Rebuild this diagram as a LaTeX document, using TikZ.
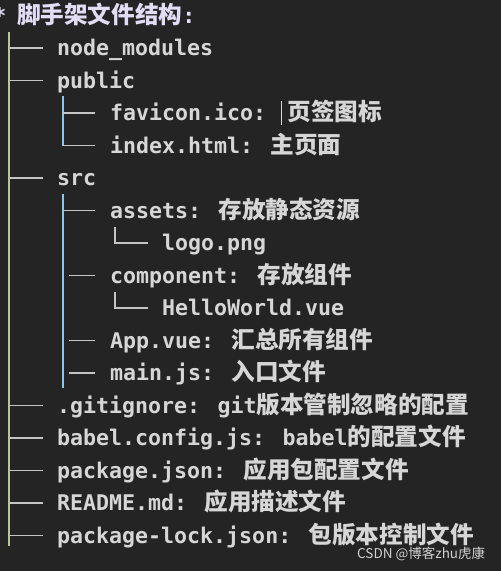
\documentclass[tikz,border=0pt]{standalone}
\usepackage{fontspec}
\newfontfamily\monof{DejaVu Sans Mono}
\newfontfamily\cjkf{Noto Sans CJK SC}
\newcommand\zh[1]{{\cjkf\fontsize{23.6}{26}\selectfont #1}}
\definecolor{bgc}{HTML}{242424}
\definecolor{txt}{HTML}{D6D6D6}
\definecolor{titlec}{HTML}{E2DCF4}
\definecolor{gone}{HTML}{B8C49C}
\definecolor{gtwo}{HTML}{8CC6E4}
\definecolor{brc}{HTML}{C4C4C4}
\definecolor{wmc}{HTML}{D0D0D0}
\tikzset{
  item/.style={anchor=west, inner sep=0pt, text height=18pt, text depth=3pt, text=txt,
    font=\monof\bfseries\fontsize{21.6}{26}\selectfont},
  guideone/.style={draw=gone, line width=2pt},
  guidetwo/.style={draw=gtwo, line width=2pt},
  branch/.style={draw=brc, line width=1.5pt},
}
\begin{document}
\begin{tikzpicture}[x=1pt,y=-1pt]
\useasboundingbox (0,0) rectangle (501,571);
\fill[bgc] (0,0) rectangle (501,571);
% columns
\coordinate (c1) at (9,0);
\coordinate (c2) at (63,0);
\coordinate (c3) at (115,0);
% title
\node[item, text=titlec, anchor=center] (star) at (0,16) {*};
\node[item, text=titlec] (title) at (17,16) {\zh{\bfseries 脚手架文件结构}:};
% rows
\node[item] (nm)   at (57,48)    {node\_modules};
\node[item] (pub)  at (57,80.5)  {public};
\node[item] (fav)  at (110,113)  {favicon.ico: \hspace{4pt}\zh{页签图标}};
\node[item] (idx)  at (110,145.5) {index.html: \zh{主页面}};
\node[item] (src)  at (57,178)   {src};
\node[item] (ast)  at (110,210.5) {assets: \zh{存放静态资源}};
\node[item] (logo) at (162,243)  {logo.png};
\node[item] (comp) at (110,275.5) {component: \zh{存放组件}};
\node[item] (hw)   at (162,308)  {HelloWorld.vue};
\node[item] (app)  at (110,340.5) {App.vue: \zh{汇总所有组件}};
\node[item] (main) at (110,373)  {main.js: \zh{入口文件}};
\node[item] (git)  at (57,405.5) {.gitignore: git\zh{版本管制忽略的配置}};
\node[item] (bab)  at (57,438)   {babel.config.js: babel\zh{的配置文件}};
\node[item] (pkg)  at (57,470.5) {package.json: \zh{应用包配置文件}};
\node[item] (rd)   at (57,503)   {README.md: \zh{应用描述文件}};
\node[item] (pl)   at (57,535.5) {package-lock.json: \zh{包版本控制文件}};
% cursor
\coordinate (cur) at (281,113);
\draw[draw=txt, line width=1pt] ([yshift=-12pt]cur) -- ([yshift=12pt]cur);
% level-1 guide
\draw[guideone] (c1 |- 0,32) -- (c1 |- 0,546);
\foreach \n in {nm,pub,src,git,bab,pkg,rd,pl}
  \draw[branch] (c1 |- \n.west) -- ([xshift=-14pt]\n.west);
% level-2 guides
\draw[guidetwo] (c2 |- 0,96) -- (c2 |- idx.west);
\draw[guidetwo] (c2 |- 0,194) -- (c2 |- 0,388);
\draw[branch] (c2 |- fav.west) -- ([xshift=-15pt]fav.west);
\draw[branch] (c2 |- idx.west) -- ([xshift=-15pt]idx.west);
\draw[branch] (c2 |- ast.west) -- ([xshift=-15pt]ast.west);
\foreach \n in {comp,app,main}
  \draw[branch] ([xshift=6pt]c2 |- \n.west) -- ([xshift=-15pt]\n.west);
% level-3
\draw[branch] (c3 |- 0,227) -- (c3 |- logo.west) -- ([xshift=-14pt]logo.west);
\draw[branch] (c3 |- 0,292) -- (c3 |- hw.west) -- ([xshift=-14pt]hw.west);
% watermark
\node[anchor=west, inner sep=0pt, text=wmc, font=\cjkf\fontsize{13.5}{15}\selectfont] (wm) at (357,554) {CSDN @博客zhu虎康};
\end{tikzpicture}
\end{document}
